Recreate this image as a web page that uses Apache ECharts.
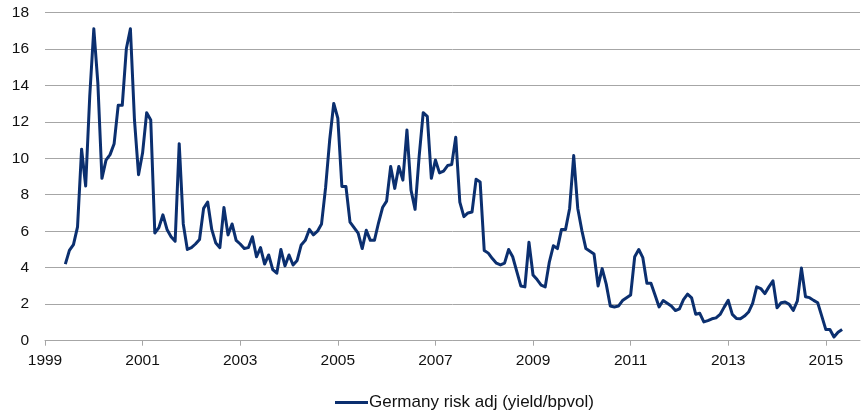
<!DOCTYPE html>
<html>
<head>
<meta charset="utf-8">
<script src="https://cdn.jsdelivr.net/npm/echarts@6/dist/echarts.min.js"></script>
<style>
  html, body { margin: 0; padding: 0; background: #fff; }
  #chart { width: 864px; height: 417px; }
</style>
</head>
<body>
<div id="chart"></div>
<script>
// Germany risk-adjusted yield (yield / bp volatility), monthly, Jun 1999 – May 2015
const seriesName = 'Germany risk adj (yield/bpvol)';
const firstYear = 1999;
const firstMonth = 6; // June

const v1999 = [4.2, 4.95, 5.27, 6.24, 10.5, 8.48, 13.4];
const v2000 = [17.1, 14.1, 8.9, 9.9, 10.2, 10.8, 12.9, 12.9, 16.0, 17.1, 12.1, 9.1];
const v2001 = [10.3, 12.5, 12.1, 5.9, 6.2, 6.9, 6.1, 5.7, 5.45, 10.8, 6.4, 5.0];
const v2002 = [5.1, 5.3, 5.55, 7.25, 7.6, 6.1, 5.35, 5.1, 7.3, 5.8, 6.4, 5.5];
const v2003 = [5.3, 5.05, 5.1, 5.7, 4.6, 5.1, 4.2, 4.7, 3.9, 3.7, 5.0, 4.1];
const v2004 = [4.7, 4.15, 4.4, 5.25, 5.5, 6.1, 5.8, 6.0, 6.4, 8.4, 11.0, 13.0];
const v2005 = [12.2, 8.45, 8.45, 6.5, 6.2, 5.9, 5.05, 6.05, 5.5, 5.5, 6.45, 7.3];
const v2006 = [7.65, 9.55, 8.35, 9.55, 8.8, 11.55, 8.25, 7.2, 10.1, 12.5, 12.3, 8.9];
const v2007 = [9.9, 9.2, 9.3, 9.6, 9.65, 11.15, 7.6, 6.8, 7.0, 7.05, 8.85, 8.7];
const v2008 = [4.95, 4.8, 4.5, 4.25, 4.15, 4.25, 5.0, 4.6, 3.8, 3.0, 2.95, 5.4];
const v2009 = [3.6, 3.35, 3.05, 2.95, 4.3, 5.2, 5.05, 6.1, 6.1, 7.25, 10.15, 7.25];
const v2010 = [6.05, 5.05, 4.9, 4.75, 3.0, 3.95, 3.1, 1.9, 1.85, 1.9, 2.2, 2.35];
const v2011 = [2.5, 4.6, 5.0, 4.55, 3.15, 3.15, 2.5, 1.85, 2.2, 2.05, 1.9, 1.65];
const v2012 = [1.75, 2.25, 2.55, 2.35, 1.45, 1.5, 1.03, 1.1, 1.2, 1.25, 1.44, 1.84];
const v2013 = [2.21, 1.44, 1.22, 1.2, 1.35, 1.57, 2.05, 2.95, 2.86, 2.58, 2.95, 3.28];
const v2014 = [1.8, 2.08, 2.12, 1.99, 1.66, 2.18, 3.98, 2.41, 2.36, 2.21, 2.08, 1.35];
const v2015 = [0.61, 0.61, 0.2, 0.46, 0.61];

const yearTicks = [1999, 2001, 2003, 2005, 2007, 2009, 2011, 2013, 2015];
const valueTicks = [0, 2, 4, 6, 8, 10, 12, 14, 16, 18];

const values = [].concat(v1999, v2000, v2001, v2002, v2003, v2004, v2005, v2006,
  v2007, v2008, v2009, v2010, v2011, v2012, v2013, v2014, v2015);

// each value sits at its month on a fractional-year axis
const points = values.map((v, i) => {
  const m = firstMonth - 1 + i;
  return [firstYear + m / 12, v];
});

const lineColor = '#0b2f6f';
const gridColor = '#a6a6a6';
const textColor = '#111111';
const font = 'Liberation Sans, Arial, sans-serif';

const chart = echarts.init(document.getElementById('chart'), null, { renderer: 'canvas' });
chart.setOption({
  animation: false,
  backgroundColor: '#ffffff',
  grid: { left: 45, right: 4, top: 12.3, bottom: 76.3, containLabel: false },
  legend: {
    top: 389,
    left: 330,
    icon: 'rect',
    itemWidth: 33,
    itemHeight: 3,
    textStyle: { fontFamily: font, fontSize: 17, color: textColor, padding: [0, 0, 0, -4] },
    data: [seriesName]
  },
  xAxis: {
    type: 'value',
    min: yearTicks[0],
    max: 2015.7,
    interval: 2,
    axisLine: { show: true, lineStyle: { color: gridColor, width: 1 } },
    axisTick: {
      show: true, inside: false, length: 5,
      customValues: yearTicks,
      lineStyle: { color: gridColor }
    },
    axisLabel: {
      customValues: yearTicks,
      formatter: v => String(Math.round(v)),
      fontFamily: font, fontSize: 15.5, color: textColor, margin: 12
    },
    splitLine: { show: false }
  },
  yAxis: {
    type: 'value',
    min: valueTicks[0],
    max: valueTicks[valueTicks.length - 1],
    interval: 2,
    axisLine: { show: false },
    axisTick: { show: false },
    axisLabel: { fontFamily: font, fontSize: 15.5, color: textColor, margin: 16 },
    splitLine: { show: true, lineStyle: { color: gridColor, width: 1 } }
  },
  series: [{
    name: seriesName,
    type: 'line',
    data: points,
    showSymbol: false,
    symbol: 'none',
    lineStyle: { color: lineColor, width: 3, join: 'round' },
    itemStyle: { color: lineColor }
  }]
});
</script>
</body>
</html>
